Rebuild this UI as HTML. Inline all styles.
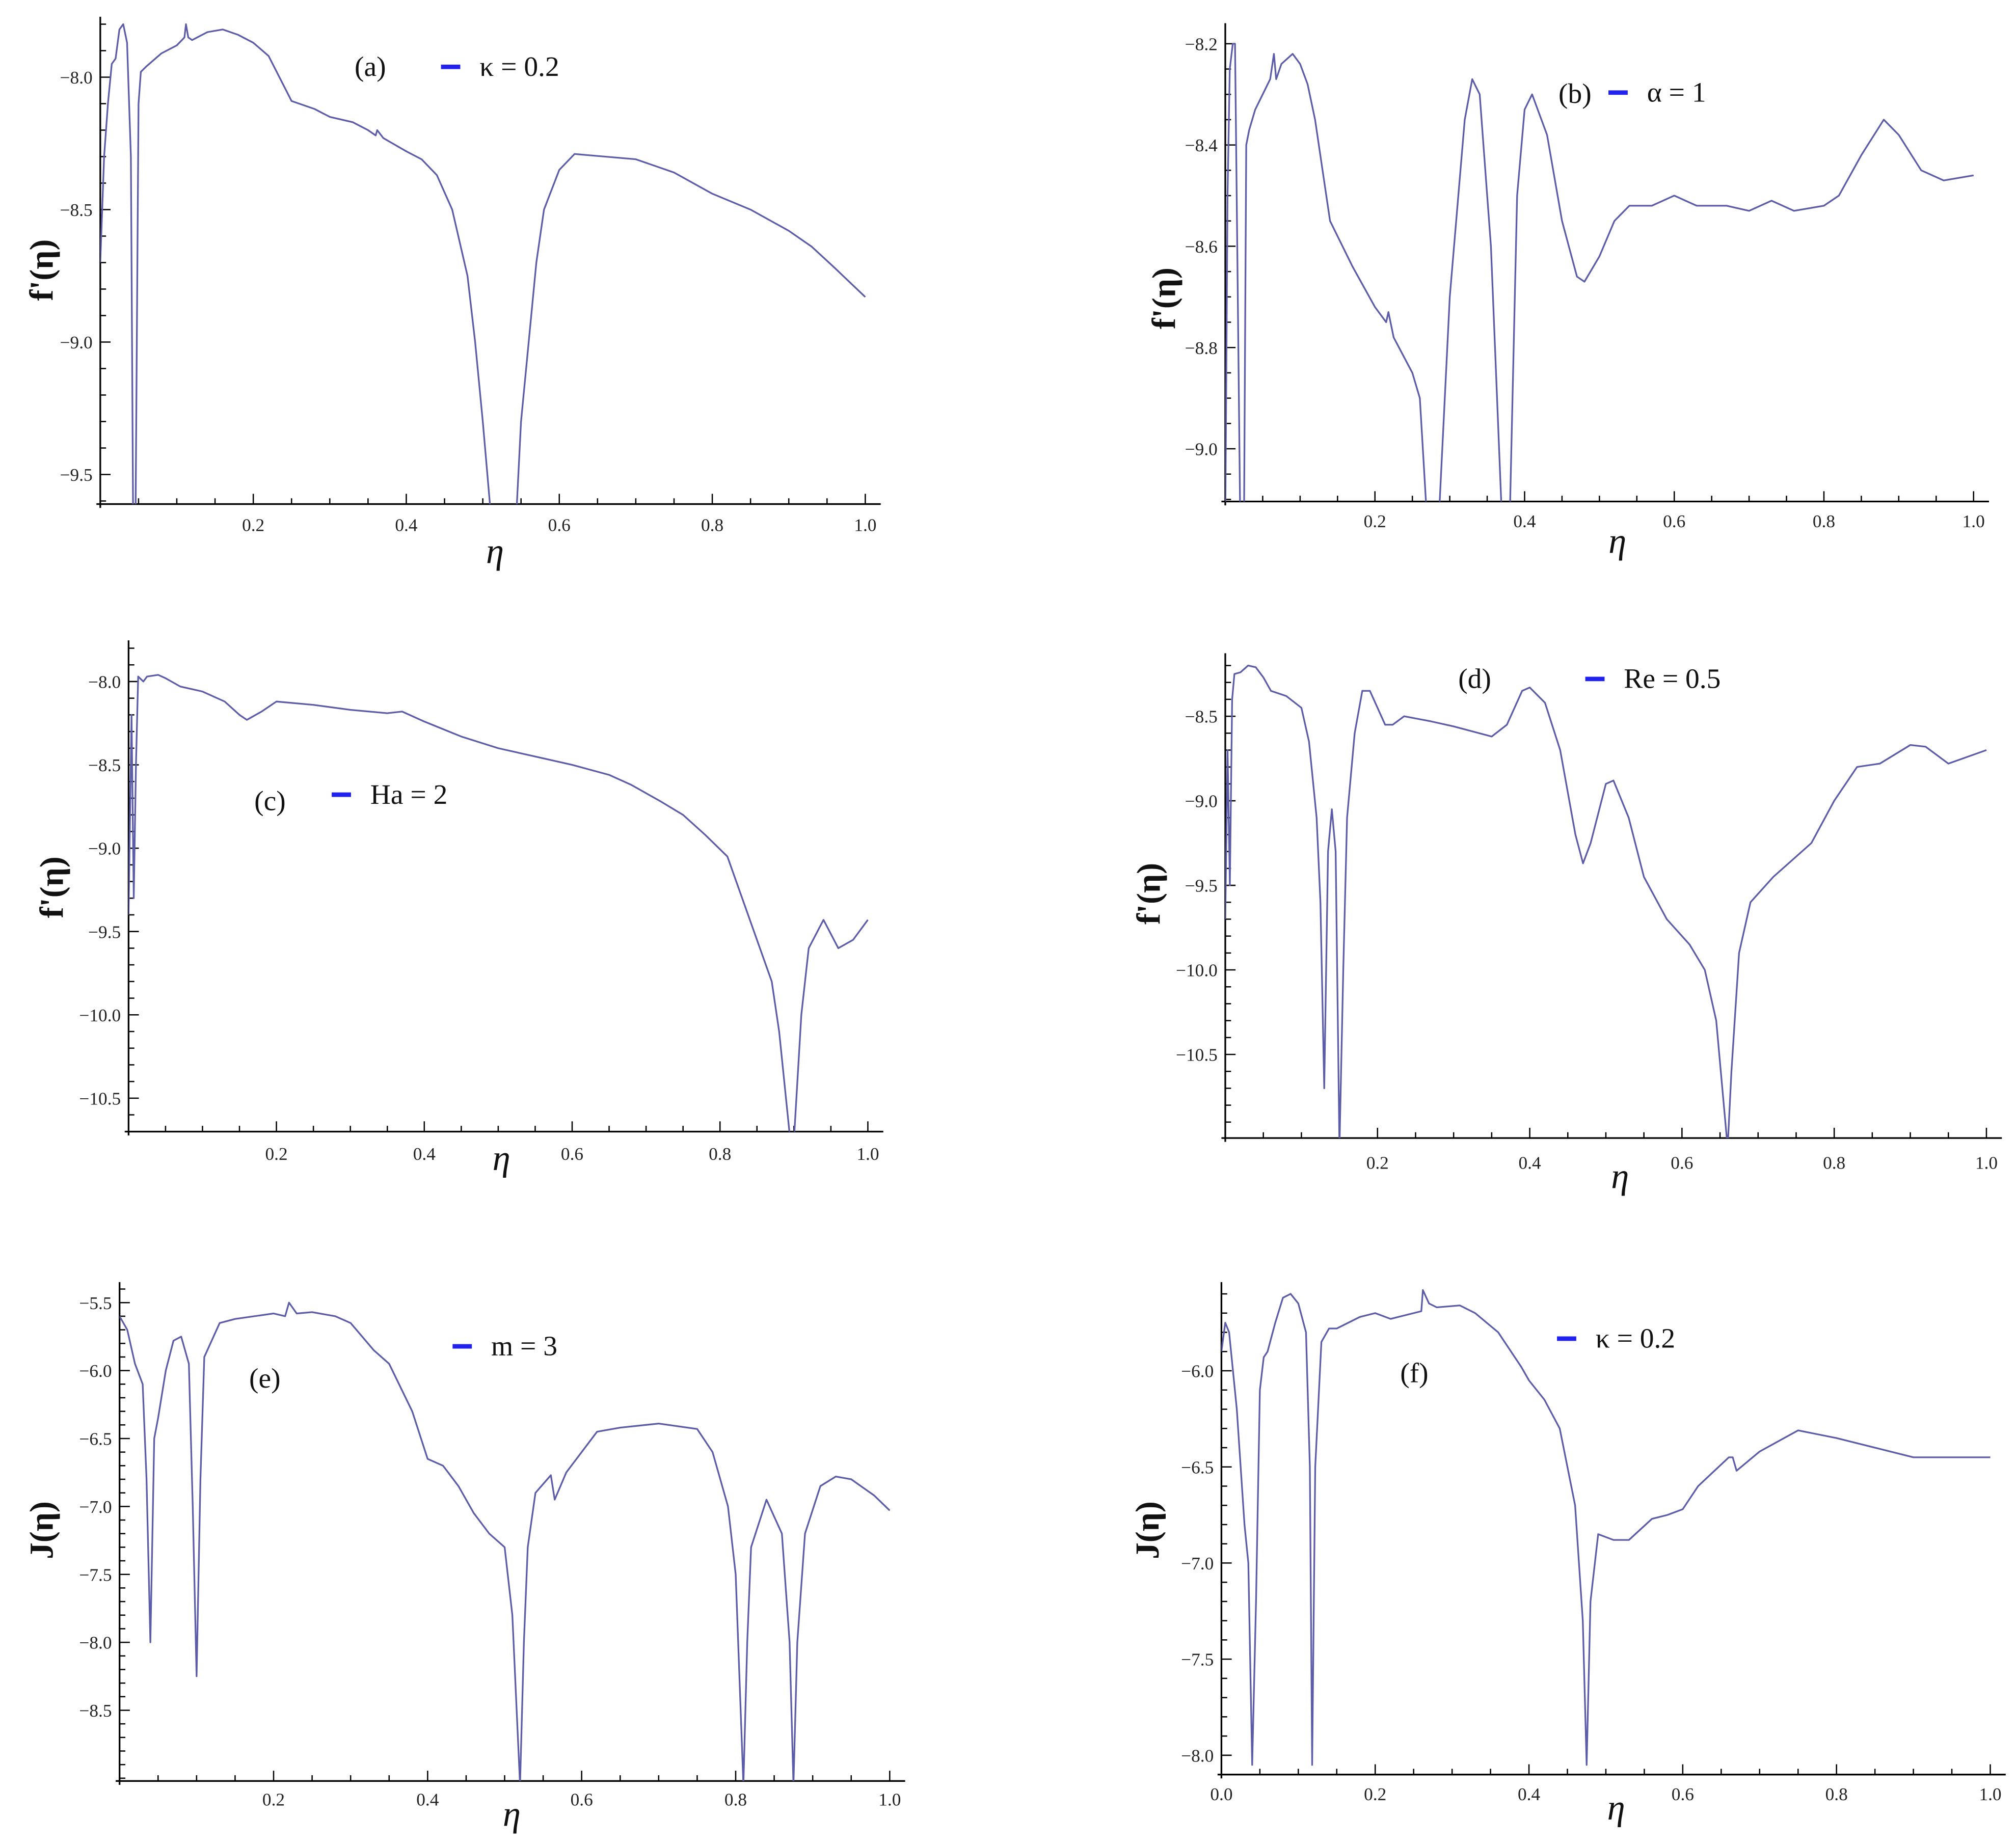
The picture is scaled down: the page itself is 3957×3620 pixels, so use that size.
<!DOCTYPE html>
<html><head><meta charset="utf-8">
<style>html,body{margin:0;padding:0;background:#fff;}svg{display:block;}</style></head>
<body>
<svg id="fig" xmlns="http://www.w3.org/2000/svg" width="3957" height="3620" viewBox="0 0 1568 1434" preserveAspectRatio="none" font-family="Liberation Serif, serif"></svg>
<script>
// ---- data ----
const aPts=[[0,-8.7],[0.005,-8.3],[0.01,-8.1],[0.015,-7.95],[0.02,-7.93],[0.025,-7.82],[0.03,-7.8],[0.035,-7.87],[0.04,-8.3],[0.043,-9.7],[0.046,-9.7],[0.05,-8.1],[0.053,-7.98],[0.06,-7.96],[0.08,-7.91],[0.1,-7.88],[0.11,-7.85],[0.112,-7.8],[0.115,-7.85],[0.12,-7.86],[0.14,-7.83],[0.16,-7.82],[0.18,-7.84],[0.2,-7.87],[0.22,-7.92],[0.25,-8.09],[0.28,-8.12],[0.3,-8.15],[0.33,-8.17],[0.35,-8.2],[0.36,-8.22],[0.362,-8.2],[0.37,-8.23],[0.4,-8.28],[0.42,-8.31],[0.44,-8.37],[0.46,-8.5],[0.48,-8.75],[0.49,-9.0],[0.5,-9.3],[0.512,-9.7],[0.543,-9.7],[0.55,-9.3],[0.56,-9.0],[0.57,-8.7],[0.58,-8.5],[0.6,-8.35],[0.62,-8.29],[0.7,-8.31],[0.75,-8.36],[0.8,-8.44],[0.85,-8.5],[0.9,-8.58],[0.93,-8.64],[0.96,-8.72],[1.0,-8.83]];
const bPts=[[0,-9.15],[0.003,-8.5],[0.006,-8.25],[0.01,-8.2],[0.013,-8.2],[0.016,-8.6],[0.02,-9.15],[0.025,-9.15],[0.028,-8.4],[0.032,-8.37],[0.04,-8.33],[0.05,-8.3],[0.06,-8.27],[0.065,-8.22],[0.068,-8.27],[0.075,-8.24],[0.09,-8.22],[0.1,-8.24],[0.11,-8.28],[0.12,-8.35],[0.14,-8.55],[0.15,-8.58],[0.17,-8.64],[0.2,-8.72],[0.215,-8.75],[0.218,-8.73],[0.225,-8.78],[0.25,-8.85],[0.26,-8.9],[0.27,-9.15],[0.285,-9.15],[0.3,-8.7],[0.32,-8.35],[0.33,-8.27],[0.34,-8.3],[0.355,-8.6],[0.37,-9.15],[0.38,-9.15],[0.39,-8.5],[0.4,-8.33],[0.41,-8.3],[0.43,-8.38],[0.45,-8.55],[0.47,-8.66],[0.48,-8.67],[0.5,-8.62],[0.52,-8.55],[0.54,-8.52],[0.57,-8.52],[0.6,-8.5],[0.63,-8.52],[0.67,-8.52],[0.7,-8.53],[0.73,-8.51],[0.76,-8.53],[0.8,-8.52],[0.82,-8.5],[0.85,-8.42],[0.88,-8.35],[0.9,-8.38],[0.93,-8.45],[0.96,-8.47],[1.0,-8.46]];
const cPts=[[0,-9.4],[0.004,-8.2],[0.007,-9.3],[0.01,-8.5],[0.013,-7.97],[0.02,-8.0],[0.025,-7.97],[0.04,-7.96],[0.05,-7.98],[0.07,-8.03],[0.1,-8.06],[0.13,-8.12],[0.15,-8.2],[0.16,-8.23],[0.18,-8.18],[0.2,-8.12],[0.25,-8.14],[0.3,-8.17],[0.35,-8.19],[0.37,-8.18],[0.4,-8.24],[0.45,-8.33],[0.5,-8.4],[0.55,-8.45],[0.6,-8.5],[0.65,-8.56],[0.68,-8.62],[0.72,-8.72],[0.75,-8.8],[0.78,-8.92],[0.81,-9.05],[0.83,-9.3],[0.85,-9.55],[0.87,-9.8],[0.88,-10.1],[0.895,-10.75],[0.9,-10.75],[0.91,-10.0],[0.92,-9.6],[0.94,-9.43],[0.96,-9.6],[0.98,-9.55],[1.0,-9.43]];
const dPts=[[0,-9.7],[0.003,-8.7],[0.006,-9.5],[0.009,-8.4],[0.012,-8.25],[0.02,-8.24],[0.03,-8.2],[0.04,-8.21],[0.05,-8.27],[0.06,-8.35],[0.08,-8.38],[0.1,-8.45],[0.11,-8.65],[0.12,-9.1],[0.125,-9.6],[0.13,-10.7],[0.135,-9.3],[0.14,-9.05],[0.145,-9.3],[0.15,-11.05],[0.155,-10.0],[0.16,-9.1],[0.17,-8.6],[0.18,-8.35],[0.19,-8.35],[0.2,-8.45],[0.21,-8.55],[0.22,-8.55],[0.235,-8.5],[0.27,-8.53],[0.3,-8.56],[0.35,-8.62],[0.37,-8.55],[0.39,-8.35],[0.4,-8.33],[0.42,-8.42],[0.44,-8.7],[0.46,-9.2],[0.47,-9.37],[0.48,-9.25],[0.5,-8.9],[0.51,-8.88],[0.53,-9.1],[0.55,-9.45],[0.58,-9.7],[0.61,-9.85],[0.63,-10.0],[0.645,-10.3],[0.655,-10.8],[0.66,-11.05],[0.665,-10.6],[0.675,-9.9],[0.69,-9.6],[0.72,-9.45],[0.77,-9.25],[0.8,-9.0],[0.83,-8.8],[0.86,-8.78],[0.9,-8.67],[0.92,-8.68],[0.95,-8.78],[1.0,-8.7]];
const ePts=[[0,-5.6],[0.01,-5.7],[0.02,-5.95],[0.03,-6.1],[0.035,-6.8],[0.04,-8.0],[0.045,-6.5],[0.05,-6.35],[0.06,-6.0],[0.07,-5.78],[0.08,-5.75],[0.09,-5.95],[0.095,-7.0],[0.1,-8.25],[0.105,-6.8],[0.11,-5.9],[0.13,-5.65],[0.15,-5.62],[0.2,-5.58],[0.215,-5.6],[0.22,-5.5],[0.23,-5.58],[0.25,-5.57],[0.28,-5.6],[0.3,-5.65],[0.33,-5.85],[0.35,-5.95],[0.38,-6.3],[0.4,-6.65],[0.42,-6.7],[0.44,-6.85],[0.46,-7.05],[0.48,-7.2],[0.5,-7.3],[0.51,-7.8],[0.52,-9.05],[0.525,-8.0],[0.53,-7.3],[0.54,-6.9],[0.56,-6.77],[0.565,-6.95],[0.58,-6.75],[0.62,-6.45],[0.65,-6.42],[0.7,-6.39],[0.75,-6.43],[0.77,-6.6],[0.79,-7.0],[0.8,-7.5],[0.81,-9.05],[0.815,-8.0],[0.82,-7.3],[0.84,-6.95],[0.86,-7.2],[0.87,-8.0],[0.875,-9.05],[0.88,-8.0],[0.89,-7.2],[0.91,-6.85],[0.93,-6.78],[0.95,-6.8],[0.98,-6.92],[1.0,-7.03]];
const fPts=[[0,-5.9],[0.005,-5.75],[0.01,-5.8],[0.02,-6.2],[0.03,-6.8],[0.035,-7.0],[0.04,-8.05],[0.045,-7.2],[0.05,-6.1],[0.055,-5.93],[0.06,-5.9],[0.07,-5.75],[0.08,-5.62],[0.09,-5.6],[0.1,-5.65],[0.11,-5.8],[0.115,-6.5],[0.118,-8.05],[0.122,-6.5],[0.13,-5.85],[0.14,-5.78],[0.15,-5.78],[0.18,-5.72],[0.2,-5.7],[0.22,-5.73],[0.25,-5.7],[0.26,-5.69],[0.262,-5.58],[0.27,-5.65],[0.28,-5.67],[0.31,-5.66],[0.33,-5.7],[0.36,-5.8],[0.39,-5.98],[0.4,-6.05],[0.42,-6.15],[0.44,-6.3],[0.46,-6.7],[0.47,-7.3],[0.475,-8.05],[0.48,-7.2],[0.49,-6.85],[0.51,-6.88],[0.53,-6.88],[0.56,-6.77],[0.58,-6.75],[0.6,-6.72],[0.62,-6.6],[0.66,-6.45],[0.665,-6.45],[0.67,-6.52],[0.7,-6.42],[0.75,-6.31],[0.8,-6.35],[0.85,-6.4],[0.9,-6.45],[0.95,-6.45],[1.0,-6.45]];
const aYTicks=[-8.0,-8.5,-9.0,-9.5];
const bYTicks=[-8.2,-8.4,-8.6,-8.8,-9.0];
const cYTicks=[-8.0,-8.5,-9.0,-9.5,-10.0,-10.5];
const dYTicks=[-8.5,-9.0,-9.5,-10.0,-10.5];
const eYTicks=[-5.5,-6.0,-6.5,-7.0,-7.5,-8.0,-8.5];
const fYTicks=[-6.0,-6.5,-7.0,-7.5,-8.0];
const xTicks=[0.2,0.4,0.6,0.8,1.0];
const fXTicks=[0.0,0.2,0.4,0.6,0.8,1.0];

// ---- layout (pixel geometry only) ----
const panels=[
 {id:'a',pts:aPts,yt:aYTicks,xt:xTicks,x0:78,x1:673,xa:392,top:13,yv1:-8.0,yp1:60,yv2:-9.5,yp2:369,minorY:0.1,ylab:"f'(η)",ylx:32,yly:210,tag:"(a)",tagx:288,tagy:59,lgx:343,lab:"κ = 0.2",laby:59,xlx:385,xly:438,xtly:413},
 {id:'b',pts:bPts,yt:bYTicks,xt:xTicks,x0:953,x1:1535,xa:390,top:18,yv1:-8.2,yp1:34,yv2:-9.0,yp2:349,minorY:0.05,ylab:"f'(η)",ylx:905,ylx2:0,yly:232,tag:"(b)",tagx:1225,tagy:80,lgx:1251,lab:"α = 1",laby:79,xlx:1258,xly:430,xtly:410},
 {id:'c',pts:cPts,yt:cYTicks,xt:xTicks,x0:100,x1:675,xa:880,top:498,yv1:-8.0,yp1:530,yv2:-10.5,yp2:854,minorY:0.1,ylab:"f'(η)",ylx:40,yly:690,tag:"(c)",tagx:210,tagy:630,lgx:258,lab:"Ha = 2",laby:625,xlx:390,xly:910,xtly:902},
 {id:'d',pts:dPts,yt:dYTicks,xt:xTicks,x0:953,x1:1545,xa:885,top:508,yv1:-8.5,yp1:557,yv2:-10.5,yp2:820,minorY:0.1,ylab:"f'(η)",ylx:893,yly:695,tag:"(d)",tagx:1147,tagy:535,lgx:1233,lab:"Re = 0.5",laby:535,xlx:1260,xly:924,xtly:909},
 {id:'e',pts:ePts,yt:eYTicks,xt:xTicks,x0:93,x1:692,xa:1385,top:997,yv1:-5.5,yp1:1013,yv2:-8.5,yp2:1330,minorY:0.1,ylab:"J(η)",ylx:32,yly:1190,tag:"(e)",tagx:206,tagy:1079,lgx:352,lab:"m = 3",laby:1054,xlx:398,xly:1420,xtly:1404},
 {id:'f',pts:fPts,yt:fYTicks,xt:fXTicks,x0:950,x1:1548,xa:1380,top:997,yv1:-6.0,yp1:1066,yv2:-8.0,yp2:1365,minorY:0.1,ylab:"J(η)",ylx:892,yly:1190,tag:"(f)",tagx:1100,tagy:1075,lgx:1211,lab:"κ = 0.2",laby:1048,xlx:1257,xly:1415,xtly:1400}
];
const NS='http://www.w3.org/2000/svg';
const svg=document.getElementById('fig');
function mk(tag,attrs,parent){const e=document.createElementNS(NS,tag);for(const k in attrs)e.setAttribute(k,attrs[k]);(parent||svg).appendChild(e);return e;}
function fmt(v){return (v<0?'\u2212':'')+Math.abs(v).toFixed(1);}
panels.forEach(p=>{
  const g=mk('g',{});
  
  
  const sx=v=>p.x0+(p.x1-p.x0)*v;
  const sy=v=>p.yp1+(v-p.yv1)*(p.yp2-p.yp1)/(p.yv2-p.yv1);
  const inv=y=>p.yv1+(y-p.yp1)*(p.yv2-p.yv1)/(p.yp2-p.yp1);
  const clip=mk('clipPath',{id:'clip'+p.id},g);
  mk('rect',{x:p.x0,y:p.top,width:p.x1-p.x0+20,height:p.xa-p.top},clip);
  // axes
  const xa=mk('line',{x1:p.x0-3,y1:p.xa,x2:p.x1+12,y2:p.xa,stroke:'#000','stroke-width':1.3},g);
  
  
  const ya=mk('line',{x1:p.x0,y1:p.top,x2:p.x0,y2:p.xa+3,stroke:'#000','stroke-width':1.3},g);
  
  
  // x ticks
  for(let i=1;i<=20;i++){const v=i*0.05;const maj=(i%4===0);
    mk('line',{x1:sx(v),y1:p.xa,x2:sx(v),y2:p.xa-(maj?8:4.5),stroke:'#000','stroke-width':1},g);}
  p.xt.forEach(v=>{const t=mk('text',{x:sx(v),y:p.xtly,'font-size':14,'text-anchor':'middle',fill:'#222'},g);t.textContent=v.toFixed(1);
    
    });
  // y ticks
  const vTop=inv(p.top), vBot=inv(p.xa);
  const lo=Math.min(vTop,vBot), hi=Math.max(vTop,vBot);
  const step=p.minorY;
  for(let k=Math.ceil(lo/step-1e-6);k*step<=hi+1e-9;k++){const v=k*step;
    const maj=p.yt.some(t=>Math.abs(t-v)<1e-6);
    mk('line',{x1:p.x0,y1:sy(v),x2:p.x0+(maj?8:4.5),y2:sy(v),stroke:'#000','stroke-width':1},g);}
  p.yt.forEach(v=>{const t=mk('text',{x:p.x0-6,y:sy(v)+5,'font-size':14,'text-anchor':'end',fill:'#222'},g);t.textContent=fmt(v);
    
    });
  // curve
  const d=p.pts.map((q,i)=>(i?'L':'M')+sx(q[0]).toFixed(2)+' '+sy(q[1]).toFixed(2)).join(' ');
  const path=mk('path',{d:d,fill:'none',stroke:'#5c5ca8','stroke-width':1.3,'stroke-linejoin':'round','clip-path':'url(#clip'+p.id+')'},g);
  
  
  // labels
  const yl=mk('text',{x:0,y:0,'font-size':26,'font-weight':'bold','text-anchor':'middle',transform:'translate('+(p.ylx+9)+' '+p.yly+') rotate(-90)',fill:'#111'},g);
  yl.textContent=p.ylab;
  
  
  const xl=mk('text',{x:p.xlx,y:p.xly,'font-size':28,'font-style':'italic','text-anchor':'middle',fill:'#111'},g);
  xl.textContent='η';
  
  
  const tg=mk('text',{x:p.tagx,y:p.tagy,'font-size':22,'text-anchor':'middle',fill:'#111'},g);
  tg.textContent=p.tag;
  
  
  const lg=mk('line',{x1:p.lgx,y1:p.laby-7,x2:p.lgx+15,y2:p.laby-7,stroke:'#2222ee','stroke-width':3.5},g);
  
  
  const lt=mk('text',{x:p.lgx+30,y:p.laby,'font-size':22,fill:'#111'},g);
  lt.textContent=p.lab;
  
  
});
</script>
</body></html>
